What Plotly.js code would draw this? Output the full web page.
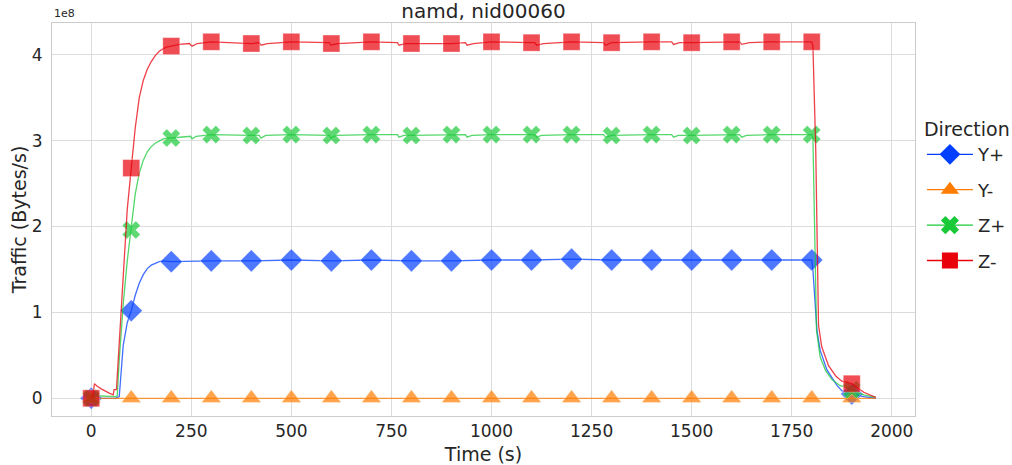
<!DOCTYPE html>
<html>
<head>
<meta charset="utf-8">
<script src="https://cdn.plot.ly/plotly-3.0.1.min.js"></script>
<style>
html,body{margin:0;padding:0;background:#fff;}
#chart{width:1012px;height:465px;}
</style>
</head>
<body>
<div id="chart"></div>
<script>
// Values are in units of 1e8 Bytes/s (axis offset label "1e8")
const seriesNames = ["Y+", "Y-", "Z+", "Z-"];

// marker samples (every 100 s)
const markerTime = [0,100,200,300,400,500,600,700,800,900,1000,1100,1200,1300,1400,1500,1600,1700,1800,1900];
const yPlusMarkers  = [0,1.02,1.59,1.60,1.60,1.61,1.60,1.61,1.60,1.60,1.61,1.61,1.62,1.61,1.61,1.61,1.61,1.61,1.61,0.05];
const yMinusMarkers = [0,0,0,0,0,0,0,0,0,0,0,0,0,0,0,0,0,0,0,0];
const zPlusMarkers  = [0,1.96,3.03,3.07,3.06,3.07,3.06,3.07,3.06,3.07,3.07,3.07,3.07,3.06,3.07,3.06,3.07,3.07,3.07,0.10];
const zMinusMarkers = [0,2.68,4.10,4.15,4.13,4.15,4.13,4.15,4.13,4.13,4.15,4.14,4.15,4.14,4.15,4.14,4.15,4.15,4.15,0.17];

// fine line samples
const yPlusTime  = [0,10,60,70,75,80,90,100,110,120,130,140,150,160,170,180,200,300,400,500,600,700,800,900,1000,1100,1200,1300,1400,1500,1600,1700,1800,1803,1807,1813,1821,1838,1863,1875,1900,1930,1960];
const yPlusLine  = [0,0,0,0.02,0.35,0.62,0.88,1.02,1.20,1.34,1.44,1.51,1.55,1.57,1.59,1.60,1.59,1.60,1.60,1.61,1.60,1.61,1.60,1.60,1.61,1.61,1.62,1.61,1.61,1.61,1.61,1.61,1.61,1.49,1.18,0.79,0.56,0.33,0.15,0.09,0.05,0.02,0.0];

const yMinusTime = [0,1960];
const yMinusLine = [0,0];

const zPlusTime  = [0,5,10,60,65,70,80,90,100,110,120,130,140,150,160,170,180,190,200,248,252,262,300,400,420,424,436,500,595,599,611,700,765,769,781,800,900,935,939,951,1000,1100,1108,1113,1125,1200,1280,1285,1297,1300,1400,1450,1455,1467,1500,1600,1620,1625,1637,1700,1800,1803,1812,1821,1835,1850,1870,1884,1900,1930,1960];
const zPlusLine  = [0,0.02,0.03,0.02,0.03,0.45,1.10,1.60,1.96,2.38,2.62,2.77,2.87,2.93,2.97,3.00,3.02,3.03,3.03,3.05,3.02,3.05,3.07,3.06,3.06,3.03,3.06,3.07,3.06,3.03,3.06,3.07,3.07,3.04,3.06,3.06,3.07,3.07,3.04,3.06,3.07,3.07,3.07,3.04,3.06,3.07,3.07,3.04,3.06,3.06,3.07,3.07,3.04,3.06,3.06,3.07,3.07,3.04,3.06,3.07,3.07,3.03,0.79,0.48,0.32,0.22,0.15,0.13,0.10,0.04,0.01];

const zMinusTime = [0,4,8,15,25,35,45,55,57,63,70,80,90,100,110,120,130,140,150,160,170,180,190,200,220,245,252,265,300,400,420,424,440,500,595,599,615,700,765,769,785,800,900,935,939,955,1000,1100,1108,1113,1130,1200,1280,1285,1300,1400,1450,1455,1470,1500,1600,1620,1625,1645,1700,1795,1800,1803,1810,1817,1825,1842,1860,1875,1900,1930,1960];
const zMinusLine = [0,0.02,0.17,0.14,0.11,0.08,0.06,0.04,0.10,0.10,0.65,1.45,2.20,2.68,3.15,3.50,3.70,3.83,3.92,3.99,4.04,4.07,4.09,4.10,4.12,4.13,4.10,4.13,4.15,4.13,4.14,4.11,4.13,4.15,4.14,4.11,4.13,4.15,4.14,4.11,4.13,4.13,4.13,4.14,4.11,4.13,4.15,4.14,4.14,4.11,4.13,4.15,4.14,4.11,4.14,4.15,4.15,4.12,4.14,4.14,4.15,4.15,4.12,4.14,4.15,4.15,4.15,4.10,2.90,0.85,0.60,0.38,0.26,0.20,0.17,0.07,0.01];

const xTickStep = 250;
const yTickStep = 1;

const colors = ["#023eff","#ff7c00","#1ac938","#e8000b"];
const symbols = ["diamond","triangle-up","x","square"];
const mSizes = [17,17,16,17];
const lineT = [yPlusTime, yMinusTime, zPlusTime, zMinusTime];
const lineV = [yPlusLine, yMinusLine, zPlusLine, zMinusLine];
const mV = [yPlusMarkers, yMinusMarkers, zPlusMarkers, zMinusMarkers];

function rgba(hex, a){
  const r=parseInt(hex.slice(1,3),16), g=parseInt(hex.slice(3,5),16), b=parseInt(hex.slice(5,7),16);
  return `rgba(${r},${g},${b},${a})`;
}

const traces = [];
for (let i=0;i<4;i++){
  traces.push({
    x: lineT[i], y: lineV[i], mode:'lines', type:'scatter',
    line:{color: rgba(colors[i],0.75), width:1.3},
    showlegend:false, hoverinfo:'skip', legendgroup:'g'+i
  });
  traces.push({
    x: markerTime, y: mV[i], mode:'markers', type:'scatter',
    marker:{symbol:symbols[i], size:mSizes[i], color: rgba(colors[i],0.7),
            line:{color:'rgba(255,255,255,0.35)', width:1}},
    showlegend:false, legendgroup:'g'+i
  });
}
// legend entries (no data)
for (let i=0;i<4;i++){
  traces.push({
    x:[null], y:[null], mode:'lines+markers', type:'scatter', name: seriesNames[i],
    line:{color:colors[i], width:1.3},
    marker:{symbol:symbols[i], size:16, color:colors[i]},
    legendgroup:'g'+i, showlegend:true
  });
}

const font = 'DejaVu Sans, sans-serif';
const layout = {
  width:1012, height:465,
  margin:{l:52, r:97, t:23, b:49, pad:0},
  paper_bgcolor:'#fff', plot_bgcolor:'#fff',
  font:{family:font, color:'#262626', size:17},
  title:{text:'namd, nid00060', font:{family:font, size:20, color:'#262626'},
         x:0.5, xref:'paper', xanchor:'center', y:0.976, yref:'container', yanchor:'middle'},
  xaxis:{
    range:[-98,2058], tickmode:'linear', tick0:0, dtick:xTickStep,
    showgrid:true, gridcolor:'#dcdcdc', gridwidth:1, zeroline:false,
    showline:true, linecolor:'#cccccc', linewidth:1, mirror:true,
    ticks:'', ticklabelstandoff:0, tickfont:{size:17},
    title:{text:'Time (s)', font:{size:19}, standoff:8}
  },
  yaxis:{
    range:[-0.206,4.369], tickmode:'linear', tick0:0, dtick:yTickStep,
    showgrid:true, gridcolor:'#dcdcdc', gridwidth:1, zeroline:false,
    showline:true, linecolor:'#cccccc', linewidth:1, mirror:true,
    ticks:'', ticklabelstandoff:5, tickfont:{size:17},
    title:{text:'Traffic (Bytes/s)', font:{size:19}, standoff:0}
  },
  legend:{
    xref:'container', yref:'container',
    x:0.911, xanchor:'left', y:0.7604, yanchor:'top',
    title:{text:'Direction', font:{size:19}},
    font:{size:18}, traceorder:'grouped', tracegroupgap:9,
    bgcolor:'rgba(0,0,0,0)', itemwidth:46
  },
  annotations:[{
    text:'1e8', xref:'paper', yref:'paper', x:0, y:1, xanchor:'left', yanchor:'bottom',
    showarrow:false, font:{size:11, color:'#262626'}, yshift:1
  }]
};

Plotly.newPlot('chart', traces, layout, {displayModeBar:false, staticPlot:true});
</script>
</body>
</html>
